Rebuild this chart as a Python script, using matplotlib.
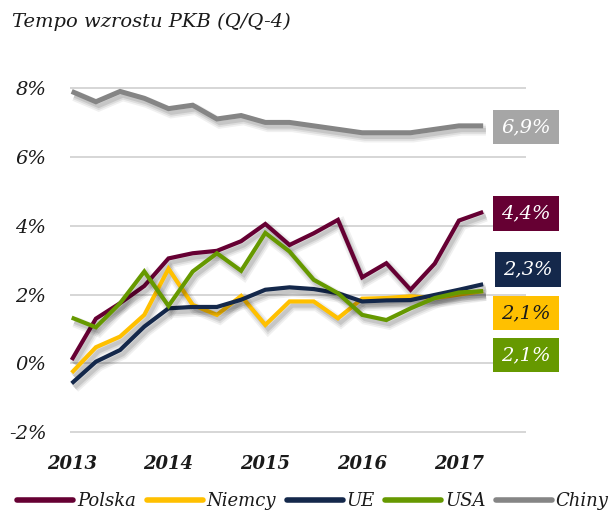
import matplotlib
matplotlib.use("Agg")
import matplotlib.pyplot as plt
import matplotlib.patheffects as pe
from matplotlib.lines import Line2D
from matplotlib.patches import Rectangle
from matplotlib.transforms import blended_transform_factory

# ---- data (quarterly, 2013Q1 .. 2017Q2) ----
quarters = list(range(18))
polska = [0.1, 1.3, 1.75, 2.25, 3.05, 3.2, 3.27, 3.55, 4.05, 3.44, 3.78, 4.17, 2.5, 2.91, 2.14, 2.9, 4.15, 4.4]
niemcy = [-0.27, 0.47, 0.78, 1.41, 2.75, 1.7, 1.41, 1.96, 1.12, 1.8, 1.8, 1.31, 1.88, 1.9, 1.95, 1.9, 2.0, 2.1]
ue = [-0.58, 0.05, 0.39, 1.07, 1.6, 1.64, 1.64, 1.85, 2.14, 2.21, 2.16, 2.04, 1.8, 1.83, 1.84, 1.99, 2.14, 2.3]
usa = [1.33, 1.05, 1.75, 2.67, 1.67, 2.67, 3.2, 2.69, 3.79, 3.25, 2.43, 2.04, 1.41, 1.26, 1.6, 1.9, 2.06, 2.1]
chiny = [7.9, 7.6, 7.9, 7.7, 7.4, 7.5, 7.1, 7.2, 7.0, 7.0, 6.9, 6.8, 6.7, 6.7, 6.7, 6.8, 6.9, 6.9]

series_names = ["Polska", "Niemcy", "UE", "USA", "Chiny"]
series_values = [polska, niemcy, ue, usa, chiny]
year_ticks = [0, 4, 8, 12, 16]
year_labels = ["2013", "2014", "2015", "2016", "2017"]
y_ticks = [-2, 0, 2, 4, 6, 8]
y_labels = ["-2%", "0%", "2%", "4%", "6%", "8%"]
title = "Tempo wzrostu PKB (Q/Q-4)"

# ---- style ----
colors = {"Polska": "#660033", "Niemcy": "#FFC000", "UE": "#14284B",
          "USA": "#669900", "Chiny": "#858585"}
box_colors = {"Polska": "#660033", "Niemcy": "#FFC000", "UE": "#14284B",
              "USA": "#669900", "Chiny": "#A6A6A6"}
box_text_colors = {"Polska": "white", "Niemcy": "#1a1a1a", "UE": "white",
                   "USA": "white", "Chiny": "white"}
draw_order = ["Chiny", "Polska", "Niemcy", "UE", "USA"]
# label box centre (data y) and left edge (axes fraction) -- layout only
box_y = {"Chiny": 6.87, "Polska": 4.35, "UE": 2.73, "Niemcy": 1.46, "USA": 0.24}
box_x0 = {"Chiny": 0.9276, "Polska": 0.9276, "UE": 0.932, "Niemcy": 0.9276, "USA": 0.9276}

FONT = "DejaVu Serif"
TXT = "#1a1a1a"

W, H = 611, 515
fig = plt.figure(figsize=(W / 100, H / 100), dpi=100)
fig.patch.set_facecolor("white")

ax = fig.add_axes([70 / W, (H - 440) / H, (526 - 70) / W, 360 / H])
ax.set_xlim(-0.07, 18.77)
ax.set_ylim(-2.224, 8.232)

for v in y_ticks:
    ax.axhline(v, color="#d0d0d0", lw=1.2, zorder=0)

lw = 3.0
for name in draw_order:
    vals = series_values[series_names.index(name)]
    shadow = [
        pe.SimpleLineShadow(offset=(2, -3), shadow_color="black", alpha=0.06, linewidth=lw + 5),
        pe.SimpleLineShadow(offset=(2, -3), shadow_color="black", alpha=0.08, linewidth=lw + 2.5),
        pe.SimpleLineShadow(offset=(2, -3), shadow_color="black", alpha=0.10, linewidth=lw),
        pe.Normal(),
    ]
    ax.plot(quarters, vals, color=colors[name], lw=lw if name != "Chiny" else lw + 0.6,
            solid_joinstyle="miter", solid_capstyle="butt", zorder=3, path_effects=shadow)

for s in ax.spines.values():
    s.set_visible(False)
ax.tick_params(length=0)
ax.set_yticks(y_ticks)
ax.set_yticklabels(y_labels, fontfamily=FONT, fontstyle="italic", fontsize=14, color=TXT)
ax.tick_params(axis="y", pad=17)
ax.set_xticks(year_ticks)
ax.set_xticklabels(year_labels, fontfamily=FONT, fontstyle="italic", fontweight="bold",
                   fontsize=13, color=TXT)
ax.tick_params(axis="x", pad=11)

# label boxes
btr = blended_transform_factory(ax.transAxes, ax.transData)
bw = 66 / 456
bh = 1.0
for name in series_names:
    vals = series_values[series_names.index(name)]
    txt = f"{vals[-1]:.1f}".replace(".", ",") + "%"
    x0 = box_x0[name]
    yc = box_y[name]
    ax.add_patch(Rectangle((x0, yc - bh / 2), bw, bh, transform=btr, clip_on=False,
                           facecolor=box_colors[name], edgecolor="none", zorder=5))
    ax.text(x0 + bw / 2, yc, txt, transform=btr, ha="center", va="center",
            fontfamily=FONT, fontstyle="italic", fontsize=14, color=box_text_colors[name],
            zorder=6, clip_on=False)

# title
fig.text(12 / W, 1 - 22 / H, title, fontfamily=FONT, fontstyle="italic", fontsize=14,
         color=TXT, ha="left", va="center")

# legend
handles = [Line2D([0], [0], color=colors[n], lw=4, solid_capstyle="round") for n in series_names]
leg = fig.legend(handles, series_names, loc="center", bbox_to_anchor=(313 / W, 1 - 501 / H),
                 ncol=5, frameon=False, handlelength=3.1, handletextpad=0.2,
                 columnspacing=0.6, prop={"family": FONT, "style": "italic", "size": 13})
for t in leg.get_texts():
    t.set_color(TXT)

fig.savefig("out.png", dpi=100)
